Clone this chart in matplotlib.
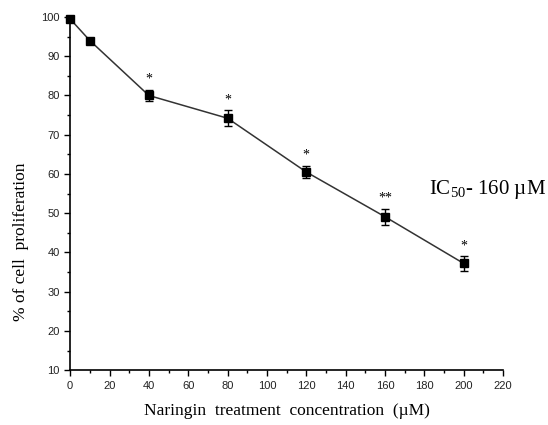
import matplotlib
matplotlib.use("Agg")
import matplotlib.pyplot as plt
from matplotlib.ticker import MultipleLocator

plt.rcParams["mathtext.fontset"] = "custom"
plt.rcParams["mathtext.rm"] = "Liberation Serif"

# naringin dose-response
conc = [0, 10, 40, 80, 120, 160, 200]
prolif = [99.5, 94.0, 80.0, 74.2, 60.5, 49.1, 37.2]
err = [0.4, 0.5, 1.5, 2.0, 1.6, 2.0, 1.8]
signif = ["", "", "*", "*", "*", "**", "*"]

fig = plt.figure(figsize=(5.48, 4.25), dpi=100)
ax = fig.add_axes([0.128, 0.129, 0.79, 0.831])

lines = ax.errorbar(conc, prolif, yerr=err, color="#333333", lw=1.1,
                    marker="s", ms=6, mfc="black", mec="black",
                    ecolor="black", elinewidth=1, capsize=3, capthick=1)
for art in lines.lines[0:1] + tuple(lines.lines[1]) + tuple(lines.lines[2]):
    art.set_clip_on(False)

for x, y, e, s in zip(conc, prolif, err, signif):
    if s:
        ax.annotate(s, (x, y + e), xytext=(0, 3), textcoords="offset points",
                    ha="center", va="bottom", fontsize=10, family="Liberation Serif")

ax.set_xlim(0, 220)
ax.set_ylim(10, 100)
ax.xaxis.set_major_locator(MultipleLocator(20))
ax.xaxis.set_minor_locator(MultipleLocator(10))
ax.yaxis.set_major_locator(MultipleLocator(10))
ax.yaxis.set_minor_locator(MultipleLocator(5))

for side in ["top", "right"]:
    ax.spines[side].set_visible(False)
for side in ["left", "bottom"]:
    ax.spines[side].set_linewidth(1.2)

ax.tick_params(which="major", direction="out", length=4, width=1, labelsize=8)
ax.tick_params(which="minor", direction="out", length=2.5, width=1)
for lab in ax.get_xticklabels() + ax.get_yticklabels():
    lab.set_family("Liberation Sans")
    lab.set_color("#222222")

ax.set_xlabel("Naringin  treatment  concentration  (µM)", family="Liberation Serif",
              fontsize=12.5, labelpad=9)
ax.set_ylabel("% of cell  proliferation", family="Liberation Serif", fontsize=12.5)
ax.yaxis.set_label_coords(-0.094, 0.365)

fig.text(0.997, 0.555, r"IC$_{\mathrm{50}}$- 160 µM", ha="right", va="center",
         family="Liberation Serif", fontsize=15)

fig.savefig("out.png", dpi=100)
